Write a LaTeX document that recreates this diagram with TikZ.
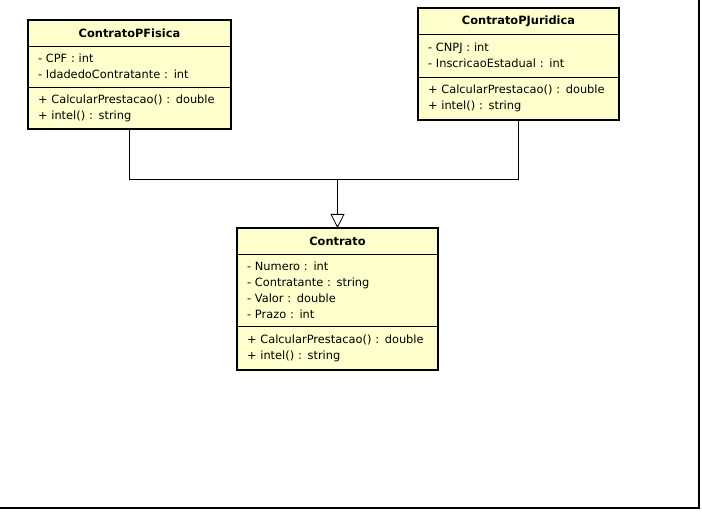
\documentclass[tikz,border=0pt]{standalone}
\usepackage{fontspec}
\setmainfont{DejaVu Sans}
\usepackage{tikz}
\usetikzlibrary{positioning,arrows.meta}
\definecolor{umlfill}{RGB}{255,255,206}

\begin{document}
\begin{tikzpicture}[x=1pt,y=-1pt,line width=0.8pt,
    font=\fontsize{11.4}{16}\selectfont,
    classhead/.style={draw, fill=umlfill, outer sep=0pt, inner sep=0pt,
        minimum height=26pt, font=\fontsize{11.4}{16}\selectfont\bfseries},
    classpart/.style={draw, fill=umlfill, outer sep=0pt, inner xsep=10pt,
        inner ysep=0pt, align=left},
    classframe/.style={line width=1.6pt}
]

\useasboundingbox (0,0) rectangle (702,516);

% ContratoPFisica
\node[classhead,
    anchor=north,
    minimum width=203pt
] (pfHead) at (129.5,20) { ContratoPFisica };

\node[classpart,
    below=0pt of pfHead,
    minimum width=203pt,
    text width=183pt,
    minimum height=41pt
] (pfAttr) { - CPF : int\\- IdadedoContratante : int };

\node[classpart,
    below=0pt of pfAttr,
    minimum width=203pt,
    text width=183pt,
    minimum height=42pt
] (pfOps) { + CalcularPrestacao() : double\\+ intel() : string };

% ContratoPJuridica
\node[classhead,
    anchor=north,
    minimum width=201pt
] (pjHead) at (518.5,8) { ContratoPJuridica };

\node[classpart,
    below=0pt of pjHead,
    minimum width=201pt,
    text width=181pt,
    minimum height=43pt
] (pjAttr) { - CNPJ : int\\- InscricaoEstadual : int };

\node[classpart,
    below=0pt of pjAttr,
    minimum width=201pt,
    text width=181pt,
    minimum height=43pt
] (pjOps) { + CalcularPrestacao() : double\\+ intel() : string };

% Contrato
\node[classhead,
    anchor=north,
    minimum width=201pt
] (cHead) at (337.5,228) { Contrato };

\node[classpart,
    below=0pt of cHead,
    minimum width=201pt,
    text width=181pt,
    minimum height=72pt
] (cAttr) { - Numero : int\\- Contratante : string\\- Valor : double\\- Prazo : int };

\node[classpart,
    below=0pt of cAttr,
    minimum width=201pt,
    text width=181pt,
    minimum height=44pt
] (cOps) { + CalcularPrestacao() : double\\+ intel() : string };

\draw[classframe] (pfHead.north west) rectangle (pfOps.south east);
\draw[classframe] (pjHead.north west) rectangle (pjOps.south east);
\draw[classframe] (cHead.north west) rectangle (cOps.south east);

\coordinate (join) at (337.5,179);

\draw (pfOps.south) |- (join);
\draw (pjOps.south) |- (join);
\draw[-{Triangle[open,length=14pt,width=14pt]}] (join) -- (cHead.north);

% page frame
\draw[line width=1.5pt] (0,508) -- (699,508) -- (699,0);

\end{tikzpicture}
\end{document}
